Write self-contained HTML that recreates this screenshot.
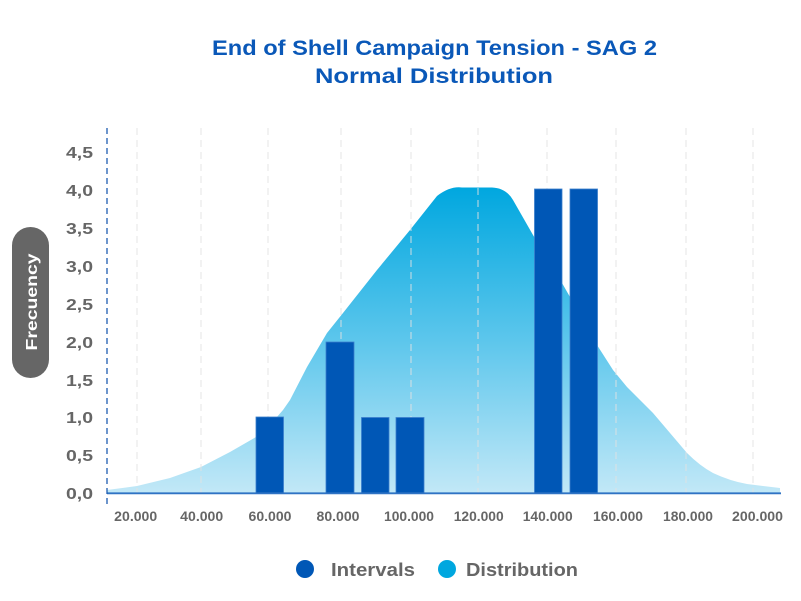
<!DOCTYPE html>
<html>
<head>
<meta charset="utf-8">
<style>
  html, body { margin:0; padding:0; background:#ffffff; }
  body { width:801px; height:601px; overflow:hidden; }
  svg { display:block; }
  text { font-family: "Liberation Sans", "DejaVu Sans", sans-serif; font-weight:bold; }
</style>
</head>
<body>
<svg width="801" height="601" viewBox="0 0 801 601" xmlns="http://www.w3.org/2000/svg">
  <defs>
    <linearGradient id="g" x1="0" y1="187" x2="0" y2="493" gradientUnits="userSpaceOnUse">
      <stop offset="0" stop-color="#00a7df"/>
      <stop offset="0.5" stop-color="#5cc6ec"/>
      <stop offset="1" stop-color="#c2e8f7"/>
    </linearGradient>
  </defs>

  <!-- Title -->
  <text x="212" y="55" font-size="21" fill="#0a58b8" textLength="445" lengthAdjust="spacingAndGlyphs">End of Shell Campaign Tension - SAG 2</text>
  <text x="315" y="83" font-size="21" fill="#0a58b8" textLength="238" lengthAdjust="spacingAndGlyphs">Normal Distribution</text>

  <!-- Y label pill -->
  <rect x="12" y="227" width="37" height="151" rx="18.5" ry="18.5" fill="#666666"/>
  <text transform="translate(37,302) rotate(-90)" text-anchor="middle" font-size="15.5" fill="#ffffff" textLength="97" lengthAdjust="spacingAndGlyphs">Frecuency</text>

  <!-- Y tick labels -->
  <g font-size="16" fill="#666666" text-anchor="end">
    <text x="93" y="158" textLength="27" lengthAdjust="spacingAndGlyphs">4,5</text>
    <text x="93" y="196" textLength="27" lengthAdjust="spacingAndGlyphs">4,0</text>
    <text x="93" y="234" textLength="27" lengthAdjust="spacingAndGlyphs">3,5</text>
    <text x="93" y="272" textLength="27" lengthAdjust="spacingAndGlyphs">3,0</text>
    <text x="93" y="310" textLength="27" lengthAdjust="spacingAndGlyphs">2,5</text>
    <text x="93" y="348" textLength="27" lengthAdjust="spacingAndGlyphs">2,0</text>
    <text x="93" y="386" textLength="27" lengthAdjust="spacingAndGlyphs">1,5</text>
    <text x="93" y="423" textLength="27" lengthAdjust="spacingAndGlyphs">1,0</text>
    <text x="93" y="461" textLength="27" lengthAdjust="spacingAndGlyphs">0,5</text>
    <text x="93" y="499" textLength="27" lengthAdjust="spacingAndGlyphs">0,0</text>
  </g>

  <!-- Distribution area -->
  <path fill="url(#g)" d="M107,490 L137,486 L170,478 L201,467 L230,452 L256,437 L270,425 L283,410 L290,400
    L307,367 L327,333 L343,313 L377,270 L410,230 L437,196
    Q450,186 462,187.5 L492,187.5 Q506,188 513,200
    L533,235 L562,283 L570,297 L597,345 L613,370 L627,387 L653,413 L687,453
    Q700,466 713,473 Q730,481 747,484 L780,488 L780,493 L107,493 Z"/>

  <!-- Gridlines -->
  <g stroke="#e2e2e2" stroke-width="1" stroke-dasharray="7,5" opacity="0.9">
    <line x1="137" y1="128" x2="137" y2="493"/>
    <line x1="201" y1="128" x2="201" y2="493"/>
    <line x1="268" y1="128" x2="268" y2="493"/>
    <line x1="341" y1="128" x2="341" y2="493"/>
    <line x1="411" y1="128" x2="411" y2="493"/>
    <line x1="478" y1="128" x2="478" y2="493"/>
    <line x1="547" y1="128" x2="547" y2="493"/>
    <line x1="616" y1="128" x2="616" y2="493"/>
    <line x1="686" y1="128" x2="686" y2="493"/>
    <line x1="753" y1="128" x2="753" y2="493"/>
  </g>

  <!-- Bars -->
  <g fill="#0057b6" stroke="#3b7fcc" stroke-width="0.8">
    <rect x="256" y="417" width="27.5" height="76"/>
    <rect x="326" y="342" width="28" height="151"/>
    <rect x="361.5" y="417.5" width="27.5" height="75.5"/>
    <rect x="396" y="417.5" width="28" height="75.5"/>
    <rect x="534.5" y="189" width="27.5" height="304"/>
    <rect x="570" y="189" width="27.5" height="304"/>
  </g>

  <!-- Axes -->
  <line x1="107" y1="493.3" x2="781" y2="493.3" stroke="#2f73c4" stroke-width="1.8"/>
  <line x1="107" y1="128" x2="107" y2="508" stroke="#1e5cb0" stroke-width="1.3" stroke-dasharray="6,4"/>

  <!-- X tick labels -->
  <g font-size="14" fill="#666666" text-anchor="middle">
    <text x="135.7" y="521" textLength="43" lengthAdjust="spacingAndGlyphs">20.000</text>
    <text x="201.7" y="521" textLength="43" lengthAdjust="spacingAndGlyphs">40.000</text>
    <text x="270" y="521" textLength="43" lengthAdjust="spacingAndGlyphs">60.000</text>
    <text x="338" y="521" textLength="43" lengthAdjust="spacingAndGlyphs">80.000</text>
    <text x="409" y="521" textLength="50" lengthAdjust="spacingAndGlyphs">100.000</text>
    <text x="478.7" y="521" textLength="50" lengthAdjust="spacingAndGlyphs">120.000</text>
    <text x="547.7" y="521" textLength="50" lengthAdjust="spacingAndGlyphs">140.000</text>
    <text x="618" y="521" textLength="50" lengthAdjust="spacingAndGlyphs">160.000</text>
    <text x="688" y="521" textLength="50" lengthAdjust="spacingAndGlyphs">180.000</text>
    <text x="757.5" y="521" textLength="51" lengthAdjust="spacingAndGlyphs">200.000</text>
  </g>

  <!-- Legend -->
  <circle cx="305" cy="569" r="9" fill="#0057b6"/>
  <text x="331" y="576" font-size="18" fill="#666666" textLength="84" lengthAdjust="spacingAndGlyphs">Intervals</text>
  <circle cx="447" cy="569" r="9" fill="#00a7df"/>
  <text x="466" y="576" font-size="18" fill="#666666" textLength="112" lengthAdjust="spacingAndGlyphs">Distribution</text>
</svg>
</body>
</html>
